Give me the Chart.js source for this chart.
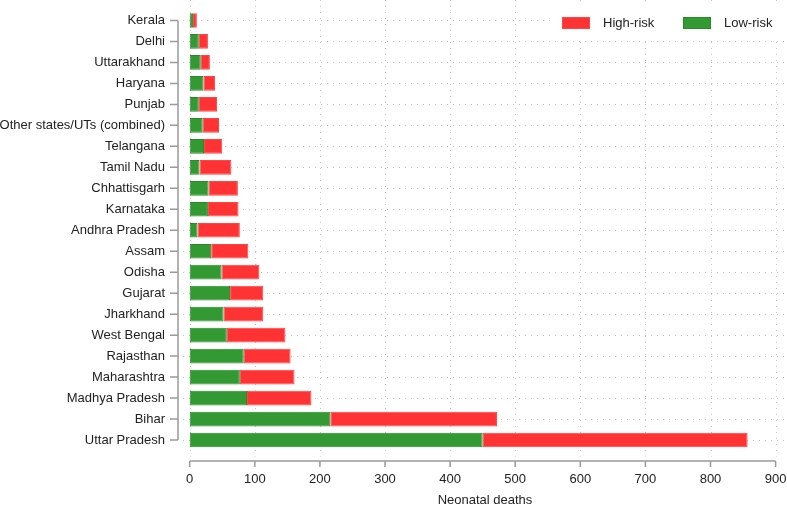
<!DOCTYPE html>
<html>
<head>
<meta charset="utf-8">
<script src="https://cdn.jsdelivr.net/npm/chart.js@4"></script>
<style>
  html, body { margin: 0; padding: 0; background: #fff; }
</style>
</head>
<body>
<canvas id="chart" width="787" height="507"></canvas>
<script>
// States from top to bottom, as in the reference
const states = ['Kerala', 'Delhi', 'Uttarakhand', 'Haryana', 'Punjab',
  'Other states/UTs (combined)', 'Telangana', 'Tamil Nadu', 'Chhattisgarh',
  'Karnataka', 'Andhra Pradesh', 'Assam', 'Odisha', 'Gujarat', 'Jharkhand',
  'West Bengal', 'Rajasthan', 'Maharashtra', 'Madhya Pradesh', 'Bihar', 'Uttar Pradesh'];
const lowRisk  = [5, 14, 17, 21, 14, 20, 22, 15, 29, 28, 12, 33, 49, 62, 52, 57, 83, 77, 88, 216, 450];
const highRisk = [6, 14, 14, 18, 28, 25, 28, 49, 45, 47, 65, 57, 58, 51, 61, 90, 72, 84, 99, 256, 407];
const xTicks = [0, 100, 200, 300, 400, 500, 600, 700, 800, 900];

const FONT = '"Liberation Sans", Arial, sans-serif';
const TEXT = '#222';
const GRID = '#c4c4c4';
const AXIS = '#9a9a9a';

// R-style detached axes, dotted grid and a boxed legend at the top right
const rAxes = {
  id: 'rAxes',
  beforeDraw(chart) {
    const { ctx, chartArea: a, scales: { x, y } } = chart;
    ctx.save();
    ctx.strokeStyle = GRID;
    ctx.lineWidth = 1;
    ctx.setLineDash([1, 5]);
    xTicks.forEach(v => {
      const px = Math.round(x.getPixelForValue(v)) + 0.5;
      ctx.beginPath();
      ctx.moveTo(px, 0);
      ctx.lineTo(px, a.bottom + 6);
      ctx.stroke();
    });
    states.forEach((s, i) => {
      const py = Math.round(y.getPixelForValue(i)) + 0.5;
      ctx.beginPath();
      ctx.moveTo(a.left, py);
      ctx.lineTo(a.right, py);
      ctx.stroke();
    });
    ctx.setLineDash([]);

    // legend
    ctx.fillStyle = '#fff';
    ctx.fillRect(550, 5, a.right - 550, 33);
    const items = chart.data.datasets.slice().reverse();
    let lx = 562;
    ctx.font = '13px ' + FONT;
    ctx.textBaseline = 'middle';
    items.forEach(ds => {
      ctx.fillStyle = ds.backgroundColor;
      ctx.fillRect(lx, 17, 28, 12);
      ctx.strokeStyle = ds.borderColor;
      ctx.lineWidth = 1;
      ctx.strokeRect(lx + 0.5, 17.5, 27, 11);
      ctx.fillStyle = TEXT;
      ctx.fillText(ds.label, lx + 41, 23.5);
      lx += 121;
    });

    // axes
    ctx.strokeStyle = AXIS;
    ctx.lineWidth = 1.5;
    const ay = a.bottom + 10.5;
    const x0 = x.getPixelForValue(xTicks[0]);
    const x1 = x.getPixelForValue(xTicks[xTicks.length - 1]);
    ctx.beginPath();
    ctx.moveTo(x0, ay);
    ctx.lineTo(x1, ay);
    xTicks.forEach(v => {
      const px = x.getPixelForValue(v);
      ctx.moveTo(px, ay);
      ctx.lineTo(px, ay + 6);
    });
    const ax = a.left - 5;
    const y0 = y.getPixelForValue(0);
    const y1 = y.getPixelForValue(states.length - 1);
    ctx.moveTo(ax, y0);
    ctx.lineTo(ax, y1);
    states.forEach((s, i) => {
      const py = y.getPixelForValue(i);
      ctx.moveTo(ax, py);
      ctx.lineTo(ax - 8, py);
    });
    ctx.stroke();
    ctx.restore();
  }
};

new Chart(document.getElementById('chart'), {
  type: 'bar',
  data: {
    labels: states,
    datasets: [
      {
        label: 'Low-risk',
        data: lowRisk,
        backgroundColor: '#339933',
        borderColor: '#2a8a2a',
        borderWidth: 1,
        borderSkipped: false
      },
      {
        label: 'High-risk',
        data: highRisk,
        backgroundColor: '#ff3333',
        borderColor: '#ff4444',
        borderWidth: 1,
        borderSkipped: false
      }
    ]
  },
  options: {
    indexAxis: 'y',
    responsive: false,
    animation: false,
    layout: { autoPadding: false, padding: { top: 10, right: 0, left: 0, bottom: 0 } },
    datasets: { bar: { categoryPercentage: 1, barPercentage: 0.7 } },
    plugins: {
      legend: { display: false },
      tooltip: { enabled: false }
    },
    scales: {
      x: {
        stacked: true,
        min: -10.3,
        max: 917.5,
        grid: { display: false, drawTicks: true, tickLength: 21 },
        border: { display: false },
        afterBuildTicks: s => { s.ticks = xTicks.map(v => ({ value: v })); },
        afterFit: s => { s.height = 56.5; },
        ticks: {
          padding: 0,
          color: TEXT,
          maxRotation: 0,
          font: { family: FONT, size: 13 }
        },
        title: {
          display: true,
          text: 'Neonatal deaths',
          color: TEXT,
          padding: { top: 0, bottom: -1.5 },
          font: { family: FONT, size: 13 }
        }
      },
      y: {
        stacked: true,
        grid: { display: false, drawTicks: true, tickLength: 18 },
        border: { display: false },
        afterFit: s => { s.width = 183; },
        ticks: {
          padding: 0,
          color: TEXT,
          autoSkip: false,
          font: { family: FONT, size: 13 }
        }
      }
    }
  },
  plugins: [rAxes]
});
</script>
</body>
</html>
